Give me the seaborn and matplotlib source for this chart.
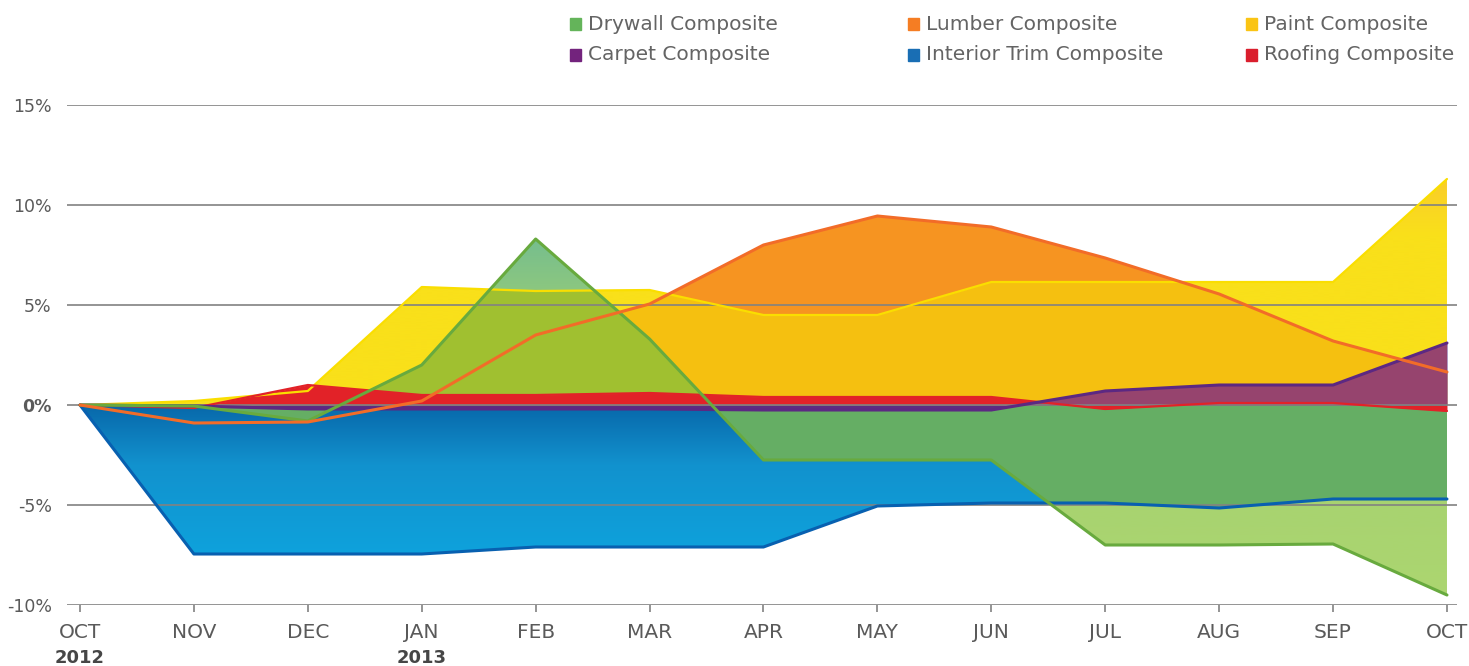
import numpy as np
import matplotlib
matplotlib.use("Agg")
import matplotlib.pyplot as plt
import matplotlib.transforms as mtransforms
from matplotlib.patches import Rectangle
import seaborn as sns

# --- data (monthly % change since Oct 2012) ---
months = ["OCT", "NOV", "DEC", "JAN", "FEB", "MAR", "APR", "MAY", "JUN", "JUL", "AUG", "SEP", "OCT"]
year_labels = {0: "2012", 3: "2013"}
drywall = [0, -0.05, -0.8, 2.0, 8.3, 3.3, -2.75, -2.75, -2.75, -7.0, -7.0, -6.95, -9.5]
lumber = [0, -0.9, -0.85, 0.2, 3.5, 5.05, 8.0, 9.45, 8.9, 7.35, 5.55, 3.2, 1.65]
paint = [0, 0.2, 0.7, 5.9, 5.7, 5.75, 4.5, 4.5, 6.15, 6.15, 6.15, 6.15, 11.3]
carpet = [0, -0.05, -0.2, -0.2, -0.2, -0.2, -0.25, -0.25, -0.25, 0.7, 1.0, 1.0, 3.1]
interior_trim = [0, -7.45, -7.45, -7.45, -7.1, -7.1, -7.1, -5.05, -4.9, -4.9, -5.15, -4.7, -4.7]
roofing = [0, -0.15, 1.0, 0.5, 0.5, 0.6, 0.4, 0.4, 0.4, -0.2, 0.1, 0.1, -0.3]
y_ticks = [-10, -5, 0, 5, 10, 15]

W, H = 1469, 666


def rgb(r, g, b):
    return (r / 255, g / 255, b / 255)


sns.set_theme(style="white")
plt.rcParams['font.family'] = ['DejaVu Sans']

fig = plt.figure(figsize=(W / 100, H / 100), dpi=100)
ax = fig.add_axes([67 / W, 1 - 605 / H, (1457 - 67) / W, 500 / H])
x = np.arange(len(months))


def area(y, color, z, clip=None):
    pc = ax.fill_between(x, 0, y, color=color, lw=0, zorder=z)
    if clip is not None:
        pc.set_clip_path(clip.get_paths()[0], ax.transData)
    return pc


def gradient_area(y, stops, z):
    # vertical gradient clipped to the area between 0 and y
    pc = ax.fill_between(x, 0, y, color='none', lw=0)
    ys = [s[0] for s in stops]
    lo, hi = min(min(y), 0), max(max(y), 0)
    grid_y = np.linspace(hi, lo, 600)
    img = np.zeros((600, 1, 3))
    for c in range(3):
        img[:, 0, c] = np.interp(grid_y, ys[::-1], [s[1][c] / 255 for s in stops][::-1])
    im = ax.imshow(img, aspect='auto', extent=[x[0], x[-1], lo, hi], origin='upper',
                   zorder=z, interpolation='bilinear')
    im.set_clip_path(pc.get_paths()[0], ax.transData)
    return pc


# base layers
paint_pc = gradient_area(paint, [(11.3, (250, 205, 42)), (8.5, (249, 224, 26)), (-1, (249, 224, 26))], 1)
lumber_pc = area(lumber, rgb(246, 148, 33), 2)
area(paint, rgb(245, 192, 16), 3, clip=lumber_pc)
blue_pc = gradient_area(interior_trim, [(0, (8, 104, 170)), (-3, (18, 146, 206)), (-7.5, (14, 162, 220))], 4)
dry_pc = gradient_area(drywall, [(8.3, (118, 190, 142)), (5.5, (142, 200, 126)),
                                 (-5, (168, 211, 112)), (-9.5, (172, 214, 112))], 5)
area(drywall, rgb(160, 192, 48), 6, clip=paint_pc)
area(drywall, rgb(101, 174, 100), 7, clip=blue_pc)
area(roofing, rgb(226, 34, 40), 8)
area(carpet, rgb(93, 44, 128), 9)
area(carpet, rgb(150, 68, 110), 10, clip=paint_pc)

# grid lines above the fills
for t in y_ticks:
    ax.axhline(t, color=rgb(130, 130, 130), lw=1.2, zorder=11)

# series outlines
line_styles = [
    (paint, rgb(250, 222, 0), 1.6),
    (roofing, rgb(226, 34, 40), 1.6),
    (interior_trim, rgb(8, 96, 176), 2.2),
    (carpet, rgb(92, 40, 130), 2.2),
    (drywall, rgb(104, 170, 62), 2.2),
    (lumber, rgb(242, 108, 40), 2.2),
]
for i, (vals, col, lw) in enumerate(line_styles):
    sns.lineplot(x=x, y=vals, ax=ax, color=col, lw=lw, zorder=12 + i)

ax.set_xlim(-0.114, 12.088)
ax.set_ylim(-10, 15)
for s in ax.spines.values():
    s.set_visible(False)

# axes ticks and labels
text_gray = rgb(90, 90, 90)
ax.set_xticks(x)
ax.set_xticklabels(months, fontsize=14.5, color=text_gray)
ax.tick_params(axis='x', bottom=True, length=5, width=1.2, color=rgb(130, 130, 130), pad=8)
ax.set_yticks(y_ticks)
ax.set_yticklabels([f"{t}%" for t in y_ticks], fontsize=12.5, color=text_gray)
ax.tick_params(axis='y', left=False, length=0, pad=11)
for lab in ax.get_yticklabels():
    if lab.get_text() == "0%":
        lab.set_fontweight('bold')
ax.set_xlabel("")
ax.set_ylabel("")

trans = mtransforms.blended_transform_factory(ax.transData, fig.transFigure)
for i, yr in year_labels.items():
    ax.text(i, 1 - 658 / H, yr, transform=trans, ha='center', va='center',
            fontsize=13, fontweight='bold', color=rgb(70, 70, 70))

# legend (2 rows x 3 columns)
legend_items = [
    ("Drywall Composite", rgb(100, 180, 90), 570, 24),
    ("Lumber Composite", rgb(245, 125, 35), 908, 24),
    ("Paint Composite", rgb(250, 196, 20), 1246, 24),
    ("Carpet Composite", rgb(115, 35, 125), 570, 55),
    ("Interior Trim Composite", rgb(25, 110, 180), 908, 55),
    ("Roofing Composite", rgb(218, 30, 45), 1246, 55),
]
for label, col, px, py in legend_items:
    fig.patches.append(Rectangle((px / W, 1 - (py + 6) / H), 11 / W, 12 / H,
                                 transform=fig.transFigure, color=col))
    fig.text((px + 18) / W, 1 - py / H, label, fontsize=14.5, color=rgb(100, 100, 100),
             va='center', ha='left')

fig.savefig("out.png", dpi=100)
